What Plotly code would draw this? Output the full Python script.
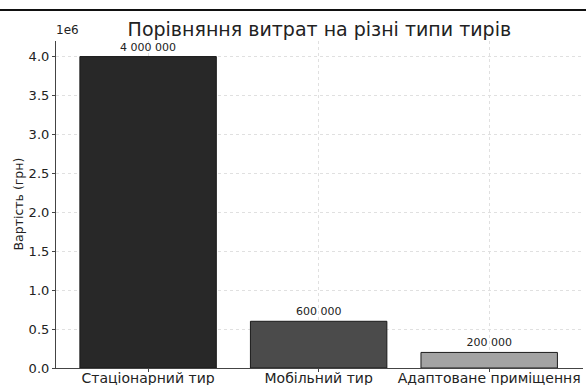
import plotly.graph_objects as go

categories = ["Стаціонарний тир", "Мобільний тир", "Адаптоване приміщення"]
costs = [4000000, 600000, 200000]
bar_colors = ["#282828", "#4b4b4b", "#a3a3a3"]
ytick_vals = [0, 500000, 1000000, 1500000, 2000000, 2500000, 3000000, 3500000, 4000000]
ytick_text = ["0.0", "0.5", "1.0", "1.5", "2.0", "2.5", "3.0", "3.5", "4.0"]

labels = [f"{v:,}".replace(",", " ") for v in costs]
FONT = "DejaVu Sans"

fig = go.Figure(go.Bar(
    x=categories, y=costs, width=0.8,
    marker=dict(color=bar_colors, line=dict(color="#1a1a1a", width=1)),
    text=labels, textposition="outside", cliponaxis=False,
    textfont=dict(family=FONT, size=11, color="#222"),
))

fig.update_layout(
    width=586, height=385,
    margin=dict(l=56, r=3, t=41, b=17, autoexpand=False),
    paper_bgcolor="white", plot_bgcolor="white",
    font=dict(family=FONT, color="#222"),
    showlegend=False,
    title=dict(text="Порівняння витрат на різні типи тирів", x=0.545, xanchor="center",
               y=1 - 29 / 385, yanchor="middle", font=dict(family=FONT, size=19, color="#222")),
    xaxis=dict(range=[-0.54, 2.55], showgrid=True, griddash="dot", gridcolor="#e0e0e0", gridwidth=1,
               showline=True, linecolor="#444", linewidth=1.2, ticks="outside", ticklen=3,
               tickcolor="#444", tickfont=dict(size=14, family=FONT), zeroline=False,
               automargin=False, ticklabelstandoff=-6),
    yaxis=dict(range=[0, 4200000], tickvals=ytick_vals, ticktext=ytick_text,
               showgrid=True, griddash="dot", gridcolor="#e0e0e0", gridwidth=1,
               showline=True, linecolor="#444", linewidth=1.2, ticks="outside", ticklen=3,
               tickcolor="#444", tickfont=dict(size=13, family=FONT), zeroline=False,
               automargin=False),
    annotations=[
        dict(text="Вартість (грн)", textangle=-90, xref="paper", yref="paper", x=0, y=0.5,
             xanchor="center", yanchor="middle",
             xshift=-38, showarrow=False, font=dict(size=12.5, family=FONT)),
        dict(text="1e6", xref="paper", yref="paper", x=0, y=1, xanchor="left", yanchor="bottom",
             xshift=-2, yshift=2, showarrow=False, font=dict(size=12, family=FONT)),
    ],
    shapes=[dict(type="line", xref="paper", yref="paper", x0=-56 / 527, x1=1 + 3 / 527,
                 y0=358 / 327, y1=358 / 327, line=dict(color="#111", width=2))],
)

fig.write_html("out.html")
